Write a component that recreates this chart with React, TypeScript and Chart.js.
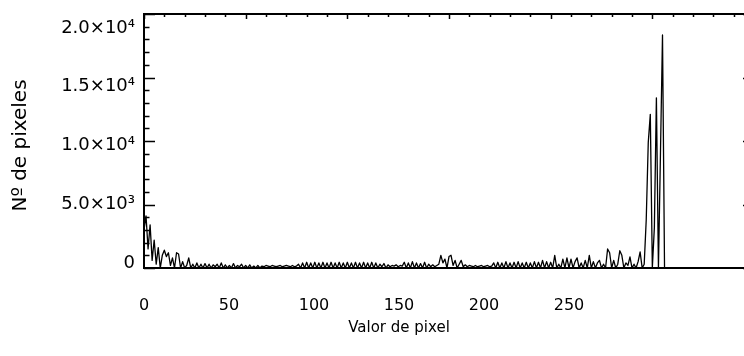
import React, { useEffect, useRef } from 'react';
import { Chart, registerables } from 'chart.js';

Chart.register(...registerables);

// Histogram counts for pixel values 0..256
const COUNTS: number[] = [
  3000, 4100, 1500, 3400, 600, 2200, 300, 1600, 0, 1000,
  1400, 900, 1200, 200, 800, 0, 1200, 1100, 0, 500,
  0, 200, 800, 0, 300, 0, 400, 0, 300, 0,
  350, 0, 300, 0, 250, 100, 300, 0, 400, 0,
  250, 0, 200, 0, 350, 0, 200, 100, 300, 0,
  200, 0, 250, 0, 150, 0, 200, 0, 150, 100,
  200, 150, 100, 200, 150, 100, 150, 200, 100, 150,
  200, 150, 100, 200, 100, 150, 300, 0, 400, 0,
  450, 0, 400, 0, 450, 0, 400, 0, 450, 0,
  400, 0, 450, 0, 400, 0, 450, 0, 400, 0,
  450, 0, 400, 0, 450, 0, 400, 0, 450, 0,
  400, 0, 450, 0, 400, 0, 300, 100, 350, 0,
  250, 100, 200, 150, 250, 100, 200, 150, 450, 0,
  400, 0, 500, 0, 400, 0, 350, 0, 450, 0,
  300, 100, 250, 100, 200, 300, 1000, 400, 700, 0,
  900, 1000, 200, 600, 0, 300, 600, 100, 250, 100,
  200, 150, 100, 200, 100, 150, 200, 100, 150, 200,
  100, 150, 400, 0, 450, 0, 400, 0, 500, 0,
  400, 0, 450, 0, 500, 0, 400, 0, 450, 0,
  400, 0, 500, 0, 450, 0, 600, 0, 500, 0,
  450, 0, 1000, 0, 300, 0, 700, 0, 800, 0,
  700, 0, 500, 800, 0, 400, 0, 600, 0, 1000,
  0, 500, 0, 400, 600, 0, 300, 0, 1500, 1200,
  0, 600, 0, 300, 1360, 1000, 0, 400, 200, 870,
  0, 300, 0, 500, 1260, 0, 300, 3800, 9900, 12100,
  0, 3200, 13400, 0, 9050, 18350, 0,
];

const X_TICKS: number[] = [0, 50, 100, 150, 200, 250];
const Y_TICKS: number[] = [0, 5000, 10000, 15000, 20000];
const Y_TICK_LABELS: string[] = ['0', '5.0×10³', '1.0×10⁴', '1.5×10⁴', '2.0×10⁴'];
const X_TITLE = 'Valor de pixel';
const Y_TITLE = 'Nº de pixeles';

const X_RANGE = [0, 300];
const Y_RANGE = [0, 20000];
const X_MAJOR = 50;
const X_MINOR = 10;
const Y_MAJOR = 5000;
const Y_MINOR = 1000;

// layout (px)
const CANVAS_W = 770;
const CANVAS_H = 356;
const VIEW_W = 744;
const PLOT_LEFT = 144;
const PLOT_TOP = 14;
const PLOT_RIGHT = 754;
const PLOT_BOTTOM = 268;
const XL_RIGHT = 654;
const YL_TOP = 28;
const YL_BOTTOM = 263;
const FONT = 'DejaVu Sans';

const labelAxesPlugin = {
  id: 'labelAxes',
  afterLayout(chart: any) {
    const xl = chart.scales.xl;
    xl.right = XL_RIGHT;
    xl.width = xl.right - xl.left;
    xl.configure();
    const yl = chart.scales.yl;
    yl.top = YL_TOP;
    yl.bottom = YL_BOTTOM;
    yl.height = yl.bottom - yl.top;
    yl.configure();
  },
};

const framePlugin = {
  id: 'idlFrame',
  afterDraw(chart: any) {
    const { ctx } = chart;
    const xs = chart.scales.x;
    const ys = chart.scales.y;
    const L = xs.left, R = xs.right, T = ys.top, B = ys.bottom;
    ctx.save();
    ctx.strokeStyle = '#000';
    ctx.lineWidth = 2;
    ctx.strokeRect(L, T, R - L, B - T);
    ctx.lineWidth = 1.5;
    ctx.beginPath();
    for (let v = Y_RANGE[0]; v <= Y_RANGE[1]; v += Y_MINOR) {
      const py = Math.round(ys.getPixelForValue(v)) + 0.5;
      const len = v % Y_MAJOR === 0 ? 11 : 5.5;
      ctx.moveTo(L, py);
      ctx.lineTo(L + len, py);
      ctx.moveTo(R, py);
      ctx.lineTo(R - len, py);
    }
    for (let v = X_RANGE[0]; v <= X_RANGE[1]; v += X_MINOR) {
      const px = Math.round(xs.getPixelForValue(v)) + 0.5;
      const len = v % X_MAJOR === 0 ? 5 : 3;
      ctx.moveTo(px, T);
      ctx.lineTo(px, T + len);
    }
    ctx.stroke();
    ctx.restore();
  },
};

export default function App() {
  const ref = useRef<HTMLCanvasElement | null>(null);

  useEffect(() => {
    if (!ref.current) return;
    const chart = new Chart(ref.current, {
      type: 'line',
      data: {
        datasets: [
          {
            data: COUNTS.map((c, i) => ({ x: i, y: c })),
            xAxisID: 'x',
            yAxisID: 'y',
            borderColor: '#000',
            borderWidth: 1.3,
            borderJoinStyle: 'round',
            pointRadius: 0,
            tension: 0,
            fill: false,
          },
        ],
      },
      options: {
        animation: false,
        responsive: false,
        devicePixelRatio: 1,
        color: '#000',
        layout: { padding: { left: 0, top: PLOT_TOP, right: CANVAS_W - PLOT_RIGHT, bottom: 0 } },
        plugins: { legend: { display: false }, tooltip: { enabled: false } },
        scales: {
          x: { type: 'linear', display: false, min: X_RANGE[0], max: X_RANGE[1] },
          y: { type: 'linear', display: false, min: Y_RANGE[0], max: Y_RANGE[1] },
          xl: {
            type: 'linear',
            position: 'bottom',
            min: X_RANGE[0],
            max: X_RANGE[1],
            afterBuildTicks: (s: any) => {
              s.ticks = X_TICKS.map((v) => ({ value: v }));
            },
            afterFit: (s: any) => {
              s.height = CANVAS_H - PLOT_BOTTOM;
              s.paddingLeft = 0;
              s.paddingRight = 0;
            },
            grid: { display: false, drawTicks: false },
            border: { display: false },
            ticks: {
              autoSkip: false,
              maxRotation: 0,
              padding: 28,
              color: '#000',
              font: { family: FONT, size: 16 },
              callback: (v: any) => String(v),
            },
            title: {
              display: true,
              text: X_TITLE,
              color: '#000',
              font: { family: FONT, size: 15 },
              padding: { top: 0, bottom: 19 },
            },
          },
          yl: {
            type: 'linear',
            position: 'left',
            min: Y_RANGE[0],
            max: Y_RANGE[1],
            afterBuildTicks: (s: any) => {
              s.ticks = Y_TICKS.map((v) => ({ value: v }));
            },
            afterFit: (s: any) => {
              s.width = PLOT_LEFT;
              s.paddingTop = 0;
              s.paddingBottom = 0;
            },
            grid: { display: false, drawTicks: false },
            border: { display: false },
            ticks: {
              autoSkip: false,
              padding: 9,
              color: '#000',
              font: { family: FONT, size: 18 },
              callback: (v: any) => Y_TICK_LABELS[Y_TICKS.indexOf(Number(v))],
            },
            title: {
              display: true,
              text: Y_TITLE,
              color: '#000',
              font: { family: FONT, size: 20 },
              padding: { top: 9, bottom: 0 },
            },
          },
        },
      } as any,
      plugins: [labelAxesPlugin, framePlugin],
    });
    return () => chart.destroy();
  }, []);

  return (
    <div
      style={{
        position: 'absolute',
        left: 0,
        top: 0,
        width: VIEW_W,
        height: CANVAS_H,
        overflow: 'hidden',
        background: '#fff',
      }}
    >
      <canvas ref={ref} width={CANVAS_W} height={CANVAS_H} style={{ display: 'block' }} />
    </div>
  );
}
